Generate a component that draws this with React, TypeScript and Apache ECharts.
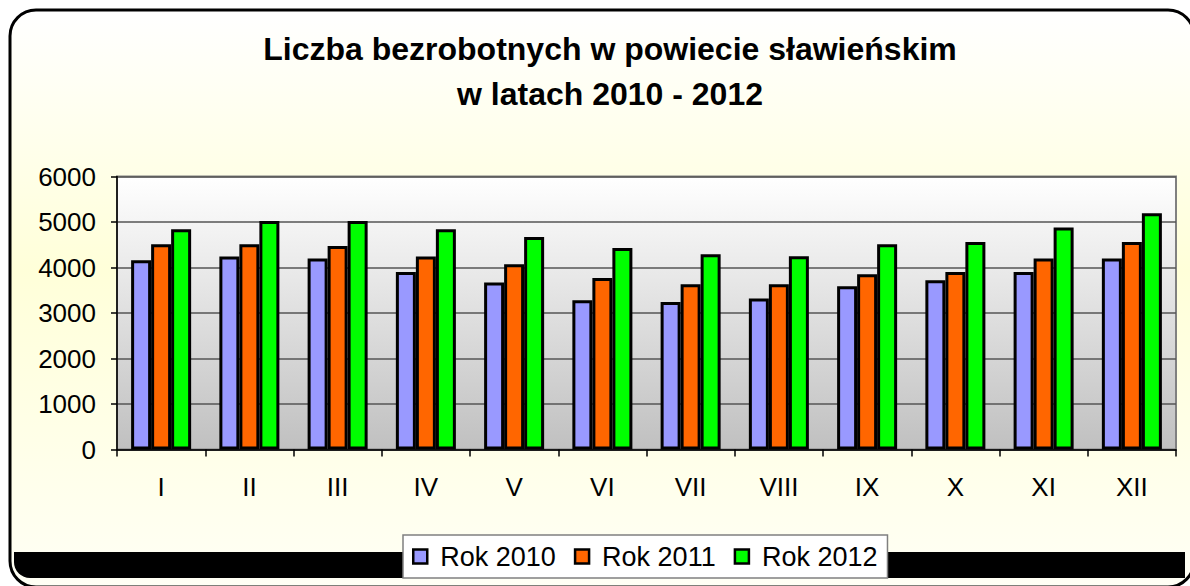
import React, { useEffect, useRef } from "react";
import * as echarts from "echarts";

const months = ["I", "II", "III", "IV", "V", "VI", "VII", "VIII", "IX", "X", "XI", "XII"];
const rok2010 = [4160, 4240, 4200, 3900, 3670, 3280, 3240, 3320, 3590, 3720, 3900, 4200];
const rok2011 = [4510, 4510, 4470, 4240, 4070, 3770, 3630, 3630, 3850, 3900, 4200, 4560];
const rok2012 = [4840, 5020, 5020, 4840, 4670, 4430, 4290, 4250, 4510, 4560, 4880, 5190];
const seriesNames = ["Rok 2010", "Rok 2011", "Rok 2012"];
const seriesColors = ["#9999ff", "#ff6600", "#00ff00"];
const titleText = "Liczba bezrobotnych w powiecie sławieńskim\nw latach 2010 - 2012";

const FONT = "'Liberation Sans', Arial, sans-serif";

export default function App() {
  const ref = useRef<HTMLDivElement>(null);
  useEffect(() => {
    if (!ref.current) return;
    const chart = echarts.init(ref.current, null, { renderer: "svg" });
    const data = [rok2010, rok2011, rok2012];
    chart.setOption({
      animation: false,
      backgroundColor: "#ffffff",
      textStyle: { fontFamily: FONT },
      title: {
        text: titleText,
        left: 605,
        textAlign: "center",
        top: 21,
        textStyle: { fontFamily: FONT, fontSize: 32, fontWeight: "bold", color: "#000", lineHeight: 45 },
      },
      graphic: [
        {
          type: "rect",
          z: -100,
          shape: { x: 10, y: 10, width: 1184, height: 577, r: 26 },
          style: {
            fill: new echarts.graphic.LinearGradient(0, 0, 0, 1, [
              { offset: 0, color: "#ffffff" },
              { offset: 0.45, color: "#ffffd9" },
              { offset: 1, color: "#fffff5" },
            ]),
            stroke: "#000",
            lineWidth: 3,
          },
        },
        {
          type: "rect",
          z: -90,
          shape: { x: 14, y: 552, width: 1171, height: 26, r: [0, 0, 0, 16] },
          style: { fill: "#000" },
        },
      ],
      legend: {
        data: seriesNames,
        left: 403,
        top: 535,
        orient: "horizontal",
        padding: [8, 10, 8, 9],
        itemGap: 18,
        itemWidth: 14,
        itemHeight: 14,
        icon: "rect",
        backgroundColor: "#ffffff",
        borderColor: "#808080",
        borderWidth: 1.5,
        itemStyle: { borderColor: "#000", borderWidth: 2.5 },
        textStyle: { fontFamily: FONT, fontSize: 27, color: "#000", padding: [0, 0, 0, 8] },
      },
      grid: {
        left: 117,
        right: 14,
        top: 176.5,
        bottom: 136.5,
        show: true,
        backgroundColor: new echarts.graphic.LinearGradient(0, 0, 0, 1, [
          { offset: 0, color: "#ffffff" },
          { offset: 1, color: "#c0c0c0" },
        ]),
        borderColor: "#808080",
        borderWidth: 2,
      },
      xAxis: {
        type: "category",
        data: months,
        axisLine: { show: true, lineStyle: { color: "#000", width: 1.5 } },
        axisTick: { show: true, length: 7, lineStyle: { color: "#000", width: 1.5 } },
        axisLabel: { fontFamily: FONT, fontSize: 26, color: "#000", margin: 24 },
        splitLine: { show: false },
      },
      yAxis: {
        type: "value",
        min: 0,
        max: 6000,
        interval: 1000,
        axisLine: { show: true, lineStyle: { color: "#000", width: 1.5 } },
        axisTick: { show: true, length: 6, lineStyle: { color: "#000", width: 1.5 } },
        axisLabel: {
          fontFamily: FONT,
          fontSize: 26,
          color: "#000",
          margin: 21,
          formatter: (v: number) => String(v),
        },
        splitLine: { show: true, lineStyle: { color: "#555555", width: 1.5 } },
      },
      series: data.map((d, i) => ({
        name: seriesNames[i],
        type: "bar",
        data: d,
        barGap: "0%",
        barCategoryGap: "32%",
        itemStyle: { color: seriesColors[i], borderColor: "#000", borderWidth: 3 },
      })),
    });
    return () => chart.dispose();
  }, []);
  return (
    <div
      ref={ref}
      style={{ position: "fixed", left: 0, top: 0, width: 1190, height: 586 }}
    />
  );
}
